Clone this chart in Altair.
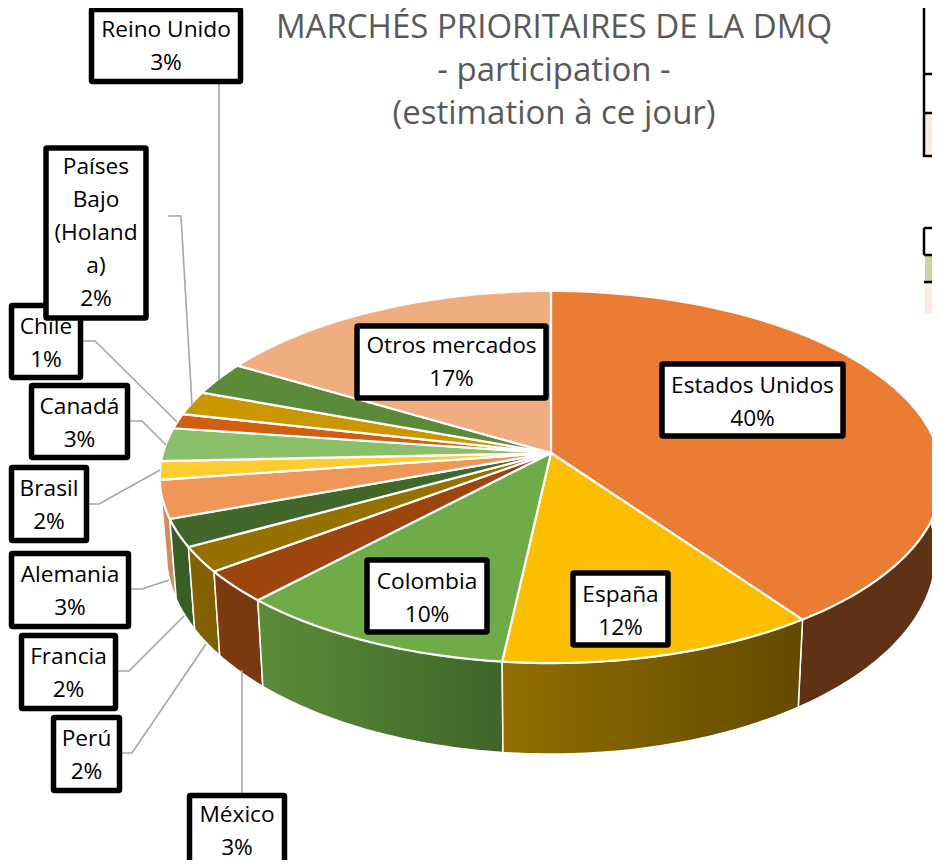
import math
import altair as alt

# ---- values (clockwise from 12 o'clock)
names = ["Estados Unidos", "España", "Colombia", "México", "Perú", "Francia", "Alemania",
         "Brasil", "Canadá", "Chile", "Países Bajo (Holanda)", "Reino Unido", "Otros mercados"]
shares = [40.15, 11.6, 10.25, 2.8, 2.2, 2.4, 3.3, 1.6, 2.9, 1.3, 2.1, 2.9, 16.5]
labels = ["Estados Unidos\n40%", "España\n12%", "Colombia\n10%", "México\n3%", "Perú\n2%",
          "Francia\n2%", "Alemania\n3%", "Brasil\n2%", "Canadá\n3%", "Chile\n1%",
          "Países\nBajo\n(Holand\na)\n2%", "Reino Unido\n3%", "Otros mercados\n17%"]
top_colors = ["#EA7C33", "#FBBE00", "#6FAC48", "#9C460E", "#967100", "#42672B", "#EF9659",
              "#FFCC31", "#8BC068", "#D0600F", "#CA9700", "#5A8A3A", "#F0AE80"]
side_left = ["#5F3215", "#926E00", "#5C8C3A", "#80390E", "#856300", "#3A5C25", "#D08E5E",
             "#D9A92A", "#77A356", "#B0520C", "#AD8200", "#4C7531", "#CF9468"]
side_right = ["#5F3215", "#624A00", "#3F6529", "#763A12", "#7F5E00", "#3A5C25", "#D08E5E",
              "#D9A92A", "#77A356", "#B0520C", "#AD8200", "#4C7531", "#CF9468"]

title_text = "MARCHÉS PRIORITAIRES DE LA DMQ\n- participation -\n(estimation à ce jour)"

# ---- layout (page pixels; the page margin is removed below)
M = 8
CX, CY, RX, RY, PERSP = 551, 453, 388, 183, 0.129
BOTTOM_CY, BOTTOM_SX, BOTTOM_SY = 528, 0.983, 1.076
LINE_H = 33

# label boxes (stroke centre lines): left, right, top, bottom, text centre y
boxes = {
    "Estados Unidos": (662, 843, 364, 436, 402),
    "España": (573, 668, 573, 645, 611),
    "Colombia": (367, 487, 560, 632, 598),
    "México": (189.5, 284.5, 795.5, 880, 831),
    "Perú": (53.5, 119.5, 717.5, 790.5, 755),
    "Francia": (21.5, 115.5, 635.5, 708.5, 673),
    "Alemania": (11.5, 128.5, 553.5, 626.5, 591),
    "Brasil": (11.5, 86.5, 467.5, 540.5, 505),
    "Canadá": (31.5, 127.5, 385.5, 457.5, 423),
    "Chile": (11.5, 80.5, 305.5, 377.5, 343),
    "Países Bajo (Holanda)": (46, 146, 148, 318, 233),
    "Reino Unido": (91.5, 240.5, 9.5, 81.5, 46),
    "Otros mercados": (357, 546, 326, 398, 362),
}
leaders = [
    [(219, 84), (219, 380)],
    [(168, 216), (181, 216), (192, 405)],
    [(83, 341), (95, 341), (177, 422)],
    [(130, 421), (142, 421), (166, 445)],
    [(89, 504), (99, 504), (160, 470)],
    [(131, 589), (142, 589), (169, 580)],
    [(118, 671), (129, 671), (184, 616)],
    [(122, 753), (132, 753), (206, 644)],
    [(242, 670), (242, 795)],
]


def top_point(t):
    u, v = math.sin(t), math.cos(t)
    w = 1 + PERSP * v
    return (CX + RX * u / w - M, CY - RY * v / w - M)


def bottom_point(t):
    u, v = math.sin(t), math.cos(t)
    w = 1 + PERSP * v
    return (CX + BOTTOM_SX * RX * u / w - M, BOTTOM_CY - BOTTOM_SY * RY * v / w - M)


def feature(name, ring):
    ring = [list(p) for p in ring]
    return {"type": "Feature", "properties": {"name": name},
            "geometry": {"type": "Polygon", "coordinates": [ring + [ring[0]]]}}


total = sum(shares)
ranges = []
acc = 0.0
for s in shares:
    ranges.append((acc / total * 2 * math.pi, (acc + s) / total * 2 * math.pi))
    acc += s


def samples(a, b):
    n = max(2, int((b - a) / math.radians(1)) + 1)
    return [a + (b - a) * i / n for i in range(n + 1)]


IDENTITY = dict(type="identity", scale=1, translate=[0, 0])
layers = []

# side walls: only the part facing the viewer, drawn outside-in
order = [12, 11, 10, 9, 8, 7, 6, 0, 5, 4, 3, 2, 1]
for i in order:
    a, b = ranges[i]
    lim_a, lim_b = math.radians(85), math.radians(275)
    a2, b2 = max(a, lim_a), min(b, lim_b)
    if a2 >= b2:
        continue
    ts = samples(a2, b2)
    ring = [top_point(t) for t in ts] + [bottom_point(t) for t in reversed(ts)]
    grad = alt.Gradient(
        gradient="linear", x1=0, x2=1, y1=0, y2=0,
        stops=[alt.GradientStop(color=side_left[i], offset=0),
               alt.GradientStop(color=side_right[i], offset=1)])
    layers.append(
        alt.Chart(alt.Data(values=[feature(names[i], ring)]))
        .mark_geoshape(fill=grad, stroke="white", strokeWidth=1.5, strokeJoin="round")
        .project(**IDENTITY))

# top face
top_feats = []
for i, (a, b) in enumerate(ranges):
    ring = [(CX - M, CY - M)] + [top_point(t) for t in samples(a, b)]
    top_feats.append(feature(names[i], ring))
layers.append(
    alt.Chart(alt.Data(values=top_feats))
    .mark_geoshape(stroke="white", strokeWidth=2.2, strokeJoin="round")
    .encode(fill=alt.Fill("properties.name:N",
                          scale=alt.Scale(domain=names, range=top_colors), legend=None))
    .project(**IDENTITY))

# leader lines
leader_rows = []
for k, pts in enumerate(leaders):
    for j, (x, y) in enumerate(pts):
        leader_rows.append({"k": k, "j": j, "x": x - M, "y": y - M})
leader_layer = alt.Chart(alt.Data(values=leader_rows)).mark_line(
    color="#A6A6A6", strokeWidth=1.6).encode(
    x=alt.X("x:Q", scale=None), y=alt.Y("y:Q", scale=None),
    detail="k:N", order="j:Q")

FONT = "Open Sans"


def label_layer(name_list):
    rows = []
    for nm in name_list:
        l, r, t, bt, ty = boxes[nm]
        lab = labels[names.index(nm)]
        n = lab.count("\n")
        rows.append({"x": l - M, "x2": r - M, "y": t - M, "y2": bt - M,
                     "tx": (l + r) / 2 - M, "ty": ty - M - n * LINE_H / 2,
                     "label": lab})
    base = alt.Chart(alt.Data(values=rows))
    rect = base.mark_rect(fill="white", stroke="black", strokeWidth=5.5, cornerRadius=1).encode(
        x=alt.X("x:Q", scale=None), x2="x2:Q",
        y=alt.Y("y:Q", scale=None), y2="y2:Q")
    text = base.mark_text(font=FONT, fontSize=22.7, color="black", lineBreak="\n",
                          lineHeight=LINE_H, baseline="middle", align="center").encode(
        x=alt.X("tx:Q", scale=None), y=alt.Y("ty:Q", scale=None), text="label:N")
    return [rect, text]


# title
title_layer = alt.Chart(alt.Data(values=[{"x": 554 - M, "y": 28 - M, "t": title_text}])).mark_text(
    font=FONT, fontSize=33, color="#595959", lineBreak="\n", lineHeight=43,
    baseline="middle", align="center").encode(
    x=alt.X("x:Q", scale=None), y=alt.Y("y:Q", scale=None), text="t:N")

# fragments of the neighbouring tables at the right edge
table_rects = [
    {"x": 925, "x2": 932, "y": 114, "y2": 156, "c": "#FCE9DC"},
    {"x": 925, "x2": 932, "y": 256, "y2": 281, "c": "#C5D79E"},
    {"x": 925, "x2": 932, "y": 283, "y2": 313, "c": "#FCE9DC"},
]
table_lines = [
    {"x": 924, "x2": 924, "y": 8, "y2": 157},
    {"x": 924, "x2": 932, "y": 74, "y2": 74},
    {"x": 924, "x2": 932, "y": 113, "y2": 113},
    {"x": 924, "x2": 932, "y": 156, "y2": 156},
    {"x": 924, "x2": 924, "y": 228, "y2": 255},
    {"x": 924, "x2": 932, "y": 228, "y2": 228},
    {"x": 924, "x2": 932, "y": 255, "y2": 255},
    {"x": 924, "x2": 932, "y": 282, "y2": 282},
]
for rows in (table_rects, table_lines):
    for r in rows:
        for key in ("x", "x2", "y", "y2"):
            r[key] = r[key] - M
tbl_fill = alt.Chart(alt.Data(values=table_rects)).mark_rect().encode(
    x=alt.X("x:Q", scale=None), x2="x2:Q", y=alt.Y("y:Q", scale=None), y2="y2:Q",
    fill=alt.Fill("c:N", scale=None))
tbl_line = alt.Chart(alt.Data(values=table_lines)).mark_rule(color="black", strokeWidth=2.5).encode(
    x=alt.X("x:Q", scale=None), x2="x2:Q", y=alt.Y("y:Q", scale=None), y2="y2:Q")

ordered_labels = ["Chile", "Países Bajo (Holanda)", "Reino Unido", "Canadá", "Brasil", "Alemania",
                  "Francia", "Perú", "México", "Otros mercados", "Estados Unidos", "Colombia", "España"]
all_layers = layers + [leader_layer, title_layer, tbl_fill, tbl_line]
for nm in ordered_labels:
    all_layers += label_layer([nm])

chart = alt.layer(*all_layers).properties(
    width=924, height=852, padding=0, background="white",
    autosize=alt.AutoSizeParams(type="none")
).configure_view(stroke=None)

chart.save("out.html", embed_options={"renderer": "svg", "actions": False})
